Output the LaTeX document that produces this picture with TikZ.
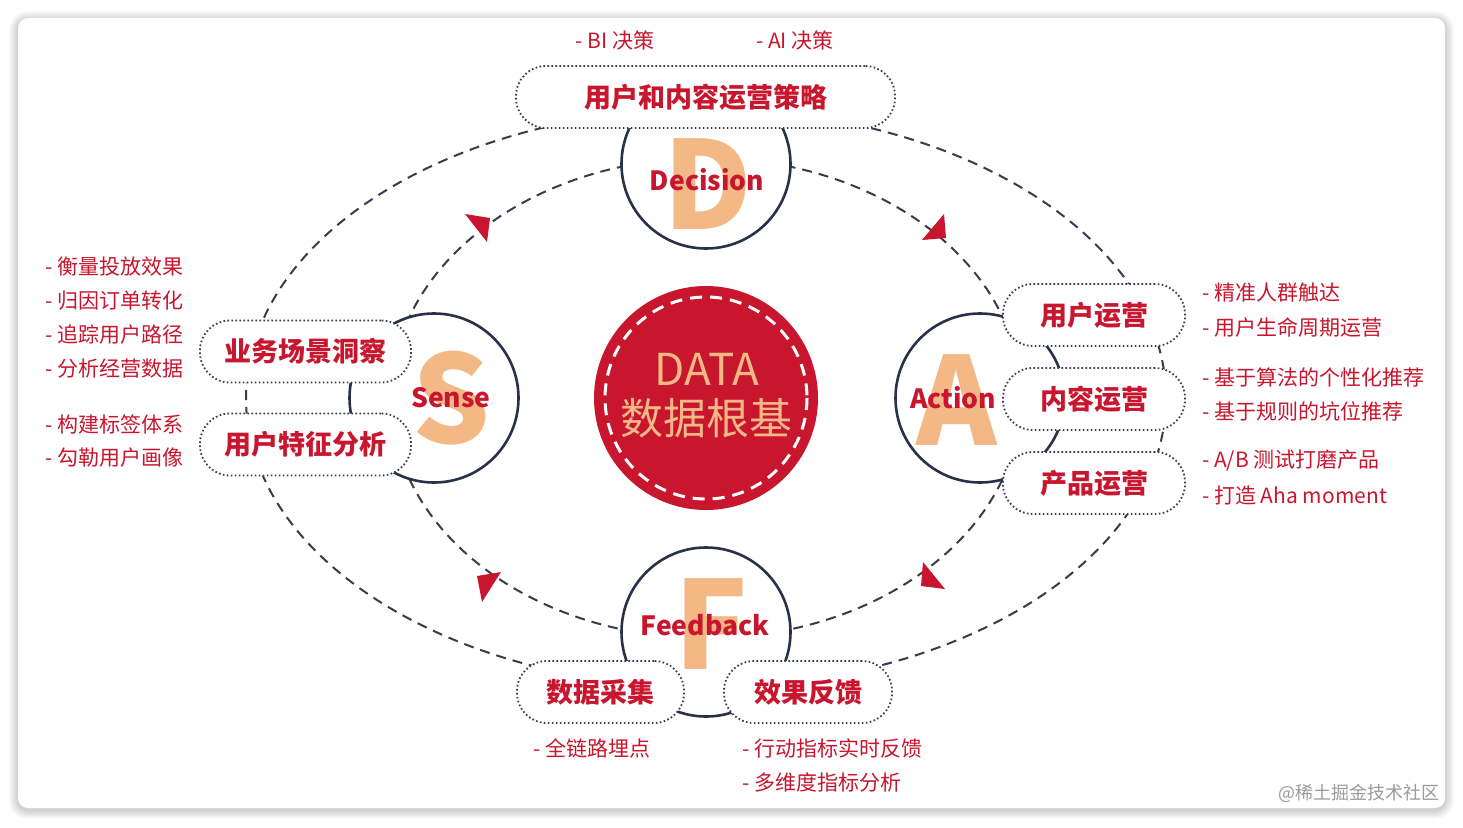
\documentclass[tikz,border=0pt]{standalone}
\usepackage{fontspec}
\setmainfont{Noto Sans CJK SC}
\definecolor{crimson}{RGB}{200,22,46}
\definecolor{peach}{RGB}{244,184,134}
\definecolor{navy}{RGB}{40,48,74}
\definecolor{dashgray}{RGB}{55,60,78}
\definecolor{wmgray}{RGB}{155,155,155}
\tikzset{
  stage/.style={circle, draw=navy, line width=2.6pt, fill=white, minimum size=169pt, inner sep=0pt},
  pill/.style={draw=dashgray, line width=1.8pt, dash pattern=on 1.6pt off 2.4pt, rounded corners=30pt, fill=white, minimum height=62pt, text=crimson, font=\fontsize{27}{30}\selectfont\bfseries, inner sep=0pt},
  note/.style={text=crimson, font=\fontsize{21}{24}\selectfont, inner sep=0pt},
  bigletter/.style={text=peach, font=\fontsize{122}{122}\selectfont\bfseries, inner sep=0pt},
  word/.style={text=crimson, font=\fontsize{26.5}{30}\selectfont\bfseries, inner sep=0pt},
  loopline/.style={draw=dashgray, line width=2pt, dash pattern=on 10pt off 7pt},
  tip/.style={fill=crimson},
}
\begin{document}
\begin{tikzpicture}[x=1pt,y=-1pt]
    \useasboundingbox[fill=white] (0,0) rectangle (1463,827);
    \foreach \i in {1,...,9}
        \fill[black, opacity=0.018, rounded corners=10pt+\i pt] (18-\i,20-\i) rectangle (1445+\i,810+\i);
    \fill[white, rounded corners=10pt] (18,18) rectangle (1445,808);
    \coordinate (hub) at (706,398);
    \draw[loopline] (hub) ellipse [x radius=460, y radius=289];
    \draw[loopline] (hub) ellipse [x radius=315, y radius=240];
    \fill[tip] (465,214) -- (490,218) -- (487,242) -- cycle;
    \fill[tip] (944,214) -- (922,240) -- (946,238) -- cycle;
    \fill[tip] (477,576) -- (501,572) -- (482,602) -- cycle;
    \fill[tip] (923,562) -- (921,586) -- (945,589) -- cycle;
    \node[circle, fill=crimson, minimum size=224pt] (core) at (hub) {};
    \draw[white, line width=3pt, dash pattern=on 12pt off 8pt] (core.center) circle [radius=101];
    \node[text=peach, font=\fontsize{44}{46}\selectfont] (data) at (707,369) {DATA};
    \node[text=peach, font=\fontsize{43}{46}\selectfont] (base) at (706,418) {数据根基};
    \node[stage] (dec) at (706,164) {};
    \node[stage] (sen) at (434,398) {};
    \node[stage] (act) at (980,398) {};
    \node[stage] (fb) at (706,632) {};
    \node[bigletter] (ld) at (708,184) {D};
    \node[bigletter] (ls) at (451,398) {S};
    \node[bigletter] (la) at (957,400) {A};
    \node[bigletter] (lf) at (711,624) {F};
    \node[word] (wd) at (707,180) {Decision};
    \node[word] (ws) at (451,398) {Sense};
    \node[word] (wa) at (953,398) {Action};
    \node[word] (wf) at (705,625) {Feedback};
    \node[pill, minimum width=379pt] (top) at (705.5,97) {用户和内容运营策略};
    \node[pill, minimum width=211pt] (s1) at (305.5,351.5) {业务场景洞察};
    \node[pill, minimum width=211pt] (s2) at (305.5,444.5) {用户特征分析};
    \node[pill, minimum width=182pt] (a1) at (1094,315) {用户运营};
    \node[pill, minimum width=182pt] (a2) at (1094,399) {内容运营};
    \node[pill, minimum width=182pt] (a3) at (1094,483) {产品运营};
    \node[pill, minimum width=167pt] (f1) at (600.5,692) {数据采集};
    \node[pill, minimum width=168pt] (f2) at (808,692) {效果反馈};
    \node[note] (t1) at (615,40) {- BI 决策};
    \node[note] (t2) at (795,40) {- AI 决策};
    \node[note, anchor=east] (l1) at (184,267) {- 衡量投放效果};
    \node[note, anchor=east] (l2) at (184,301) {- 归因订单转化};
    \node[note, anchor=east] (l3) at (184,335) {- 追踪用户路径};
    \node[note, anchor=east] (l4) at (184,369) {- 分析经营数据};
    \node[note, anchor=east] (l5) at (184,424) {- 构建标签体系};
    \node[note, anchor=east] (l6) at (184,458) {- 勾勒用户画像};
    \node[note, anchor=west] (r1) at (1202,293) {- 精准人群触达};
    \node[note, anchor=west] (r2) at (1202,327) {- 用户生命周期运营};
    \node[note, anchor=west] (r3) at (1202,377) {- 基于算法的个性化推荐};
    \node[note, anchor=west] (r4) at (1202,411) {- 基于规则的坑位推荐};
    \node[note, anchor=west] (r5) at (1202,461) {- A/B 测试打磨产品};
    \node[note, anchor=west] (r6) at (1202,495) {- 打造 Aha moment};
    \node[note, anchor=west] (b1) at (533,748) {- 全链路埋点};
    \node[note, anchor=west] (b2) at (742,748) {- 行动指标实时反馈};
    \node[note, anchor=west] (b3) at (742,782) {- 多维度指标分析};
    \node[text=wmgray, font=\fontsize{18}{20}\selectfont, inner sep=0pt, anchor=east] (mark) at (1440,793) {@稀土掘金技术社区};
\end{tikzpicture}
\end{document}
